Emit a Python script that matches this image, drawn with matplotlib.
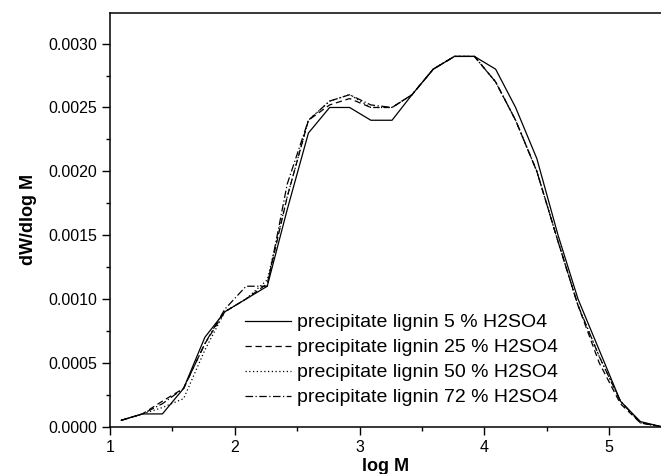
import matplotlib
matplotlib.use("Agg")
import matplotlib.pyplot as plt
from matplotlib.ticker import MultipleLocator

plt.rcParams['font.family'] = ['Liberation Sans', 'DejaVu Sans']

logM = [1.09, 1.26, 1.42, 1.59, 1.76, 1.92, 2.09, 2.26, 2.42, 2.59, 2.76, 2.92, 3.09, 3.26,
        3.42, 3.59, 3.76, 3.92, 4.09, 4.25, 4.42, 4.59, 4.75, 4.92, 5.09, 5.25, 5.42]

lignin5 = [0.00005, 0.0001, 0.0001, 0.0003, 0.0007, 0.0009, 0.001, 0.0011, 0.0017, 0.0023,
           0.0025, 0.0025, 0.0024, 0.0024, 0.0026, 0.0028, 0.0029, 0.0029, 0.0028, 0.0025,
           0.0021, 0.0015, 0.001, 0.0006, 0.0002, 0.00004, 0.0]
lignin25 = [0.00005, 0.0001, 0.0002, 0.0003, 0.00065, 0.0009, 0.001, 0.00112, 0.0018, 0.0024,
            0.00252, 0.00257, 0.0025, 0.0025, 0.0026, 0.0028, 0.0029, 0.0029, 0.0027, 0.0024,
            0.002, 0.00145, 0.00095, 0.0005, 0.00018, 0.00003, 0.0]
lignin50 = [0.00005, 0.0001, 0.00015, 0.00022, 0.0006, 0.0009, 0.001, 0.00115, 0.0018, 0.0024,
            0.00255, 0.0026, 0.0025, 0.0025, 0.0026, 0.0028, 0.0029, 0.0029, 0.0027, 0.0024,
            0.002, 0.00145, 0.00095, 0.00055, 0.0002, 0.00003, 0.0]
lignin72 = [0.00005, 0.0001, 0.00018, 0.0003, 0.00065, 0.00092, 0.0011, 0.0011, 0.0019, 0.0024,
            0.00255, 0.0026, 0.00252, 0.0025, 0.0026, 0.0028, 0.0029, 0.0029, 0.0027, 0.0024,
            0.002, 0.00145, 0.00095, 0.00055, 0.0002, 0.00003, 0.0]

labels = ["precipitate lignin 5 % H2SO4", "precipitate lignin 25 % H2SO4",
          "precipitate lignin 50 % H2SO4", "precipitate lignin 72 % H2SO4"]

fig = plt.figure(figsize=(6.61, 4.74), dpi=100)
ax = fig.add_axes([0.1664, 0.0998, 0.8336, 0.8728])

ax.plot(logM, lignin5, color='black', lw=0.9, ls='-', label=labels[0])
ax.plot(logM, lignin25, color='black', lw=0.9, ls=(0, (5, 3)), label=labels[1])
ax.plot(logM, lignin50, color='black', lw=0.9, ls=(0, (1, 2)), label=labels[2])
ax.plot(logM, lignin72, color='black', lw=0.9, ls=(0, (6, 2, 1, 2)), label=labels[3])

ax.set_xlim(1, 5.415)
ax.set_ylim(0, 0.00324)
ax.xaxis.set_major_locator(MultipleLocator(1))
ax.xaxis.set_minor_locator(MultipleLocator(0.5))
ax.yaxis.set_major_locator(MultipleLocator(0.0005))
ax.yaxis.set_minor_locator(MultipleLocator(0.00025))
ax.yaxis.set_major_formatter(plt.FuncFormatter(lambda v, p: "%.4f" % v))
ax.tick_params(which='major', direction='out', length=6, width=1, labelsize=11.5)
ax.tick_params(which='minor', direction='out', length=3, width=1)
for side in ['left', 'bottom', 'top']:
    ax.spines[side].set_linewidth(1.1)
ax.spines['right'].set_visible(False)

ax.set_xlabel('log M', fontweight='bold', fontsize=13, labelpad=2)
ax.set_ylabel('dW/dlog M', fontweight='bold', fontsize=13, labelpad=8)

ax.legend(loc='upper left', bbox_to_anchor=(0.245, 0.273), frameon=False, fontsize=14,
          handlelength=2.37, handletextpad=0.3, labelspacing=0.38, borderpad=0,
          borderaxespad=0)

fig.savefig('out.png', dpi=100)
